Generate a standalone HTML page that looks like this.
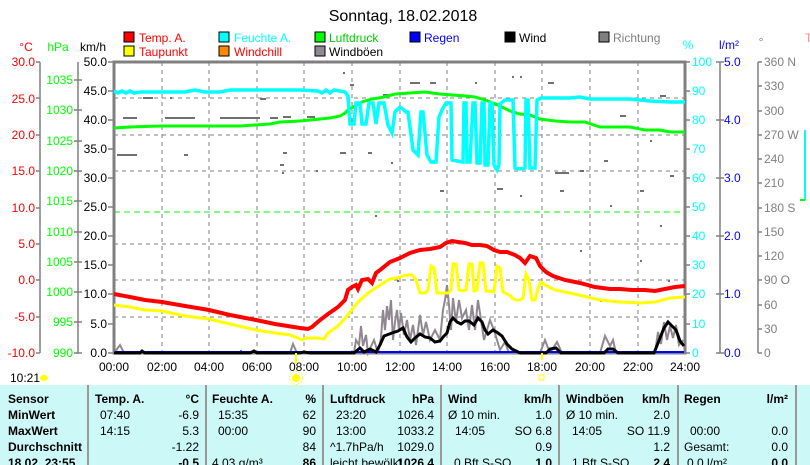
<!DOCTYPE html>
<html><head><meta charset="utf-8"><style>
html,body{margin:0;padding:0;background:#fff;}
svg{display:block;font-family:"Liberation Sans",sans-serif;}
</style></head><body>
<svg width="810" height="465" viewBox="0 0 810 465" xmlns="http://www.w3.org/2000/svg">
<rect width="810" height="465" fill="#fff"/>
<text x="403" y="21" font-size="16" text-anchor="middle" fill="#000">Sonntag, 18.02.2018</text>
<!-- legend -->
<g font-size="12">
<rect x="124" y="32" width="10" height="10" fill="#f00" stroke="#000"/><text x="139" y="42" fill="#f00">Temp. A.</text>
<rect x="219" y="32" width="10" height="10" fill="#0ff" stroke="#000"/><text x="234" y="42" fill="#0ff">Feuchte A.</text>
<rect x="315" y="32" width="10" height="10" fill="#0f0" stroke="#000"/><text x="329" y="42" fill="#0c0">Luftdruck</text>
<rect x="410" y="32" width="10" height="10" fill="#00f" stroke="#000"/><text x="424" y="42" fill="#00f">Regen</text>
<rect x="505" y="32" width="10" height="10" fill="#000" stroke="#000"/><text x="519" y="42" fill="#000">Wind</text>
<rect x="599" y="32" width="10" height="10" fill="#808080" stroke="#000"/><text x="613" y="42" fill="#808080">Richtung</text>
<rect x="124" y="46" width="10" height="10" fill="#ff0" stroke="#000"/><text x="139" y="56" fill="#f00">Taupunkt</text>
<rect x="219" y="46" width="10" height="10" fill="#f80" stroke="#000"/><text x="234" y="56" fill="#f00">Windchill</text>
<rect x="315" y="46" width="10" height="10" fill="#908890" stroke="#000"/><text x="329" y="56" fill="#000">Windböen</text>
</g>
<!-- axis titles -->
<g font-size="12">
<text x="26" y="51" fill="#f00" text-anchor="middle">°C</text>
<text x="58" y="51" fill="#0f0" text-anchor="middle">hPa</text>
<text x="93" y="51" fill="#000" text-anchor="middle">km/h</text>
<text x="688" y="49" fill="#0ff" text-anchor="middle">%</text>
<text x="729" y="49" fill="#00f" text-anchor="middle">l/m²</text>
<text x="761" y="46" fill="#808080" text-anchor="middle">°</text>
<text x="805" y="42" fill="#f88">T</text>
</g>
<!-- grid -->
<g stroke="#808080" stroke-dasharray="4,4" stroke-width="1">
<line x1="162" y1="62" x2="162" y2="353"/><line x1="209" y1="62" x2="209" y2="353"/><line x1="257" y1="62" x2="257" y2="353"/><line x1="304" y1="62" x2="304" y2="353"/><line x1="352" y1="62" x2="352" y2="353"/><line x1="400" y1="62" x2="400" y2="353"/><line x1="447" y1="62" x2="447" y2="353"/><line x1="495" y1="62" x2="495" y2="353"/><line x1="542" y1="62" x2="542" y2="353"/><line x1="590" y1="62" x2="590" y2="353"/><line x1="638" y1="62" x2="638" y2="353"/>
<line x1="114" y1="98" x2="685" y2="98"/><line x1="114" y1="135" x2="685" y2="135"/><line x1="114" y1="171" x2="685" y2="171"/><line x1="114" y1="244" x2="685" y2="244"/><line x1="114" y1="280" x2="685" y2="280"/><line x1="114" y1="317" x2="685" y2="317"/>
</g>
<line x1="114" y1="212" x2="685" y2="212" stroke="#0f0" stroke-dasharray="6,4"/>
<!-- frame -->
<rect x="114" y="62" width="571" height="291" fill="none" stroke="#808080" stroke-width="3"/>
<!-- axes -->
<g stroke="#808080" stroke-width="1.5">
<line x1="40" y1="62" x2="40" y2="353"/><line x1="78" y1="62" x2="78" y2="353"/>
<line x1="720" y1="62" x2="720" y2="353"/><line x1="758" y1="62" x2="758" y2="353"/>
</g>
<g stroke="#808080" stroke-width="1.5">
<path d="M36 62H40M36 98H40M36 135H40M36 171H40M36 208H40M36 244H40M36 280H40M36 317H40M36 353H40"/>
<path d="M74 80H82M74 110H82M74 141H82M74 171H82M74 201H82M74 232H82M74 262H82M74 292H82M74 322H82M74 353H82"/>
<path d="M108 62H114M108 91H114M108 120H114M108 149H114M108 178H114M108 207H114M108 236H114M108 265H114M108 294H114M108 324H114M108 353H114"/>
<path d="M685 62H690M685 91H690M685 120H690M685 149H690M685 178H690M685 207H690M685 236H690M685 265H690M685 294H690M685 324H690M685 353H690"/>
<path d="M716 62H724M716 120H724M716 178H724M716 236H724M716 294H724M716 353H724"/>
<path d="M758 62H762M758 86H762M758 111H762M758 135H762M758 159H762M758 183H762M758 208H762M758 232H762M758 256H762M758 280H762M758 305H762M758 329H762M758 353H762"/>
</g>
<g font-size="12" fill="#f00" text-anchor="end">
<text x="35" y="66">30.0</text><text x="35" y="103">25.0</text><text x="35" y="139">20.0</text><text x="35" y="175">15.0</text><text x="35" y="212">10.0</text><text x="35" y="248">5.0</text><text x="35" y="284">0.0</text><text x="35" y="321">-5.0</text><text x="35" y="357">-10.0</text>
</g>
<g font-size="12" fill="#0f0" text-anchor="end">
<text x="73" y="84">1035</text><text x="73" y="114">1030</text><text x="73" y="145">1025</text><text x="73" y="175">1020</text><text x="73" y="205">1015</text><text x="73" y="236">1010</text><text x="73" y="266">1005</text><text x="73" y="296">1000</text><text x="73" y="326">995</text><text x="73" y="357">990</text>
</g>
<g font-size="12" fill="#000" text-anchor="end">
<text x="107" y="66">50.0</text><text x="107" y="95">45.0</text><text x="107" y="124">40.0</text><text x="107" y="153">35.0</text><text x="107" y="182">30.0</text><text x="107" y="211">25.0</text><text x="107" y="240">20.0</text><text x="107" y="269">15.0</text><text x="107" y="298">10.0</text><text x="107" y="328">5.0</text><text x="107" y="357">0.0</text>
</g>
<g font-size="12" fill="#0ff">
<text x="692" y="66">100</text><text x="692" y="95">90</text><text x="692" y="124">80</text><text x="692" y="153">70</text><text x="692" y="182">60</text><text x="692" y="211">50</text><text x="692" y="240">40</text><text x="692" y="269">30</text><text x="692" y="298">20</text><text x="692" y="328">10</text><text x="692" y="357">0</text>
</g>
<g font-size="12" fill="#00f">
<text x="724" y="66">5.0</text><text x="724" y="124">4.0</text><text x="724" y="182">3.0</text><text x="724" y="240">2.0</text><text x="724" y="298">1.0</text><text x="724" y="357">0.0</text>
</g>
<g font-size="12" fill="#808080">
<text x="764" y="66">360 N</text><text x="764" y="90">330</text><text x="764" y="115">300</text><text x="764" y="139">270 W</text><text x="764" y="163">240</text><text x="764" y="187">210</text><text x="764" y="212">180 S</text><text x="764" y="236">150</text><text x="764" y="260">120</text><text x="764" y="284">90 O</text><text x="764" y="309">60</text><text x="764" y="333">30</text><text x="764" y="357">0</text>
</g>
<!-- direction dots -->
<g fill="#707070">
<rect x="143" y="97" width="10" height="2"/><rect x="170" y="97" width="2" height="2"/><rect x="123" y="117" width="14" height="2"/><rect x="165" y="117" width="30" height="2"/><rect x="220" y="117" width="40" height="2"/><rect x="270" y="117" width="8" height="2"/><rect x="117" y="154" width="20" height="2"/><rect x="184" y="154" width="4" height="2"/><rect x="260" y="98" width="6" height="2"/><rect x="343" y="72" width="2" height="2"/><rect x="350" y="84" width="4" height="2"/><rect x="383" y="94" width="6" height="2"/><rect x="283" y="116" width="8" height="2"/><rect x="307" y="116" width="8" height="2"/><rect x="283" y="152" width="4" height="2"/><rect x="340" y="152" width="6" height="2"/><rect x="280" y="164" width="4" height="2"/><rect x="282" y="172" width="2" height="2"/><rect x="368" y="152" width="4" height="2"/><rect x="391" y="162" width="2" height="2"/><rect x="316" y="170" width="2" height="2"/><rect x="410" y="82" width="10" height="2"/><rect x="430" y="82" width="6" height="2"/><rect x="475" y="82" width="2" height="2"/><rect x="512" y="76" width="2" height="2"/><rect x="520" y="76" width="2" height="2"/><rect x="548" y="82" width="6" height="2"/><rect x="555" y="172" width="14" height="2"/><rect x="580" y="170" width="4" height="2"/><rect x="604" y="160" width="4" height="2"/><rect x="620" y="115" width="6" height="2"/><rect x="660" y="95" width="6" height="2"/><rect x="650" y="140" width="2" height="2"/><rect x="640" y="190" width="4" height="2"/><rect x="560" y="190" width="4" height="2"/><rect x="610" y="205" width="2" height="2"/><rect x="660" y="225" width="2" height="2"/><rect x="520" y="195" width="2" height="2"/><rect x="600" y="300" width="2" height="2"/><rect x="580" y="250" width="2" height="2"/><rect x="640" y="260" width="2" height="2"/><rect x="397" y="280" width="2" height="2"/><rect x="375" y="215" width="2" height="2"/><rect x="440" y="190" width="4" height="2"/><rect x="497" y="188" width="6" height="2"/><rect x="668" y="280" width="2" height="2"/><rect x="670" y="175" width="4" height="2"/><rect x="240" y="350" width="2" height="2"/>
</g>
<!-- gusts -->
<polyline fill="none" stroke="#908890" stroke-width="2" points="114,353 120,345 124,353 180,353 290,353 293,344 297,353 354,353 356,340 359,345 361,326 363,346 366,335 368,353 374,340 378,353 381,338 383,310 385,330 387,306 389,320 391,300 393,340 395,322 397,310 399,330 401,313 404,335 407,320 410,340 413,325 416,345 420,315 423,335 426,322 430,340 435,330 440,340 443,310 445,300 447,285 449,305 451,330 453,298 456,322 459,300 462,318 466,310 469,330 472,305 475,330 478,300 481,320 484,340 487,330 490,320 494,330 497,340 500,350 505,342 509,353 540,353 545,340 550,353 557,342 562,353 600,353 605,336 610,346 613,340 616,353 655,353 658,332 661,344 664,322 667,340 670,326 673,338 676,325 679,345 683,340"/>
<line x1="115" y1="352" x2="684" y2="352" stroke="#00f" stroke-width="2"/>
<!-- wind -->
<polyline fill="none" stroke="#000" stroke-width="3" points="114,353 140,353 142,351 145,353 180,353 250,353 254,351 257,353 300,353 304,352 310,353 354,353 360,348 364,352 370,349 376,352 380,345 384,336 392,333 398,331 403,328 407,337 411,342 415,338 420,334 425,337 430,338 435,342 440,341 444,336 447,333 450,322 453,318 457,322 461,324 465,321 469,321 474,325 478,318 482,322 485,330 488,334 493,330 498,333 502,336 507,344 512,349 520,353 546,353 550,349 556,348 561,353 604,353 608,349 613,349 618,353 654,353 660,338 664,328 668,322 672,326 676,330 680,341 684,346"/>
<!-- dewpoint -->
<polyline fill="none" stroke="#ff0" stroke-width="3" points="114,305 130,307 145,310 162,311 185,316 209,319 230,324 256,330 275,333 290,335 298,338 302,340 306,338 318,338 324,339 328,333 338,326 347,316 357,303 368,293 380,285 390,279 397,278 406,275 412,275 416,280 420,293 425,293 428,290 431,266 434,268 437,293 448,293 451,290 453,264 456,264 459,290 462,291 466,290 469,264 472,264 474,291 477,290 480,263 483,263 486,291 490,291 494,292 497,266 500,268 503,292 511,296 512,298 516,300 520,300 523,298 526,274 529,280 532,300 535,300 538,288 541,282 545,285 555,290 570,293 600,300 620,302 640,303 655,302 670,298 685,297"/>
<!-- temperature -->
<polyline fill="none" stroke="#f00" stroke-width="4" points="114,294 130,297 145,300 162,302 185,306 209,310 230,315 256,320 275,324 300,328 308,329 312,327 320,320 328,314 338,307 345,300 348,290 352,287 356,285 358,289 362,280 368,279 372,283 376,273 380,270 390,262 400,258 410,253 420,250 430,249 440,247 446,243 452,241 458,242 465,243 472,245 480,245 487,246 494,250 500,252 507,252 515,255 520,258 525,263 530,256 536,258 540,266 546,272 553,276 565,280 580,283 595,287 610,289 620,289 632,290 645,290 655,291 665,289 675,287 685,286"/>
<!-- pressure -->
<polyline fill="none" stroke="#0f0" stroke-width="3" points="114,128 130,127 160,126 200,126 240,126 270,124 280,122 300,121 320,119 330,118 340,116 345,113 348,110 355,106 362,102 372,99 384,97 395,94 410,93 425,92 440,94 452,95 465,96 475,97 485,100 493,103 500,106 510,111 520,114 530,115 540,119 555,121 570,122 585,122 600,127 615,127 630,127 645,130 660,130 670,132 685,132"/>
<!-- humidity -->
<polyline fill="none" stroke="#0ff" stroke-width="3.5" points="114,91 118,93 122,91 126,93 130,91 134,93 140,92 160,92 185,92 195,90 205,92 220,92 230,90 260,90 300,90 318,91 322,93 326,90 330,93 334,90 345,92 348,96 350,124 354,124 356,103 360,103 362,124 366,124 369,103 373,103 376,124 379,103 384,103 388,125 392,133 395,112 397,110 400,107 404,110 406,112 408,112 413,150 418,155 421,112 423,112 427,155 431,162 436,162 439,117 442,110 446,103 451,103 452,160 463,162 464,103 466,103 467,162 470,162 473,103 475,103 477,163 480,163 482,103 484,103 485,165 488,165 490,103 492,103 494,165 497,170 499,165 500,104 505,100 513,100 515,168 520,169 525,168 526,100 528,100 530,168 535,168 537,100 541,98 560,98 570,98 580,97 590,99 610,99 630,99 650,101 670,102 685,102"/>
<!-- time labels -->
<g font-size="12" fill="#000" text-anchor="middle">
<text x="114" y="371">00:00</text><text x="162" y="371">02:00</text><text x="209" y="371">04:00</text><text x="257" y="371">06:00</text><text x="304" y="371">08:00</text><text x="352" y="371">10:00</text><text x="400" y="371">12:00</text><text x="447" y="371">14:00</text><text x="495" y="371">16:00</text><text x="542" y="371">18:00</text><text x="590" y="371">20:00</text><text x="638" y="371">22:00</text><text x="685" y="371">24:00</text>
</g>
<line x1="296" y1="353" x2="296" y2="364" stroke="#ff0" stroke-width="2"/>
<line x1="542" y1="353" x2="542" y2="360" stroke="#ff0" stroke-width="2"/>
<text x="10" y="382" font-size="12">10:21</text>
<ellipse cx="44" cy="378" rx="4" ry="3" fill="#ff0"/>
<circle cx="296" cy="378" r="4" fill="#ff0"/><circle cx="296" cy="378" r="6.5" fill="none" stroke="#ff0" stroke-dasharray="1.5,1.5"/>
<rect x="539" y="375" width="5" height="5" fill="none" stroke="#ff0"/>
<line x1="805" y1="130" x2="805" y2="200" stroke="#0ff" stroke-width="2"/>
<line x1="800" y1="200" x2="805" y2="200" stroke="#0f0" stroke-width="2"/>
<!-- table -->
<rect x="0" y="385" width="810" height="80" fill="#ccf8f8"/>
<g stroke="#999" stroke-width="2">
<line x1="88" y1="385" x2="88" y2="465"/><line x1="206" y1="385" x2="206" y2="465"/><line x1="323" y1="385" x2="323" y2="465"/><line x1="441" y1="385" x2="441" y2="465"/><line x1="559" y1="385" x2="559" y2="465"/><line x1="678" y1="385" x2="678" y2="465"/><line x1="796" y1="385" x2="796" y2="465"/>
</g>
<g font-size="12" fill="#000">
<g font-weight="bold">
<text x="8" y="403">Sensor</text><text x="8" y="419">MinWert</text><text x="8" y="435">MaxWert</text><text x="8" y="451">Durchschnitt</text><text x="8" y="467">18.02. 23:55</text>
<text x="95" y="403">Temp. A.</text><text x="212" y="403">Feuchte A.</text><text x="330" y="403">Luftdruck</text><text x="448" y="403">Wind</text><text x="566" y="403">Windböen</text><text x="684" y="403">Regen</text>
</g>
<g font-weight="bold" text-anchor="end">
<text x="199" y="403">°C</text><text x="316" y="403">%</text><text x="434" y="403">hPa</text><text x="552" y="403">km/h</text><text x="670" y="403">km/h</text><text x="788" y="403">l/m²</text>
<text x="199" y="467">-0.5</text><text x="316" y="467">86</text><text x="434" y="467">1026.4</text><text x="552" y="467">1.0</text><text x="670" y="467">2.4</text><text x="788" y="467">0.0</text>
</g>
<text x="100" y="419">07:40</text><text x="100" y="435">14:15</text>
<text x="218" y="419">15:35</text><text x="218" y="435">00:00</text><text x="212" y="467">4.03 g/m³</text>
<text x="336" y="419">23:20</text><text x="336" y="435">13:00</text><text x="330" y="451">^1.7hPa/h</text><text x="330" y="467">leicht bewölkt</text>
<text x="448" y="419">Ø 10 min.</text><text x="455" y="435">14:05</text><text x="454" y="467">0 Bft S-SO</text>
<text x="566" y="419">Ø 10 min.</text><text x="572" y="435">14:05</text><text x="572" y="467">1 Bft S-SO</text>
<text x="690" y="435">00:00</text><text x="684" y="451">Gesamt:</text><text x="687" y="467">0.0 l/m²</text>
<g text-anchor="end">
<text x="199" y="419">-6.9</text><text x="199" y="435">5.3</text><text x="199" y="451">-1.22</text>
<text x="316" y="419">62</text><text x="316" y="435">90</text><text x="316" y="451">84</text>
<text x="434" y="419">1026.4</text><text x="434" y="435">1033.2</text><text x="434" y="451">1029.0</text>
<text x="552" y="419">1.0</text><text x="552" y="435">SO 6.8</text><text x="552" y="451">0.9</text>
<text x="670" y="419">2.0</text><text x="670" y="435">SO 11.9</text><text x="670" y="451">1.2</text>
<text x="788" y="435">0.0</text><text x="788" y="451">0.0</text>
</g>
</g>
</svg>
</body></html>
